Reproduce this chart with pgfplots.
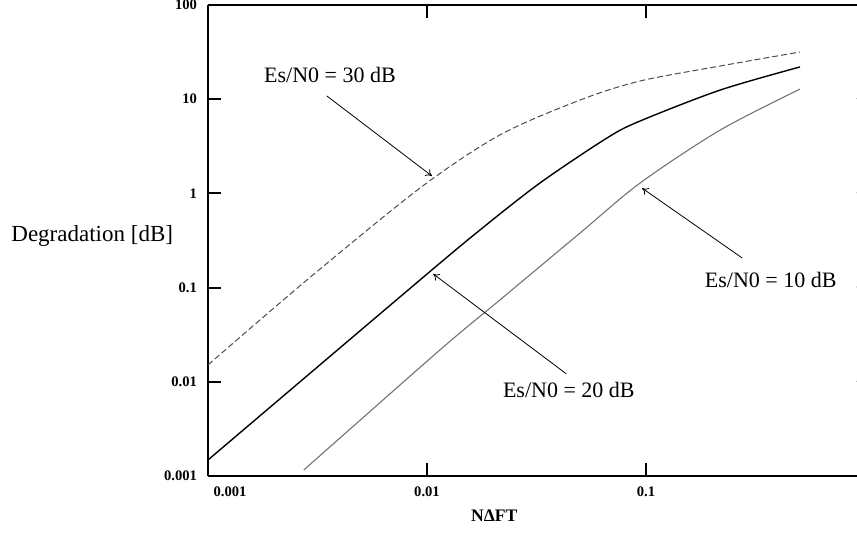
\documentclass[border=0pt]{standalone}
\usepackage{fontspec}
\setmainfont{Liberation Serif}
\usepackage{pgfplots}
\pgfplotsset{compat=1.18}
\usetikzlibrary{arrows.meta,calc}
\begin{document}
\begin{tikzpicture}
\begin{axis}[
  name=ax,
  xmode=log, ymode=log,
  scale only axis,
  width=324.5pt, height=235.5pt,
  xmin=0.001, xmax=0.919, ymin=0.001, ymax=100,
  axis x line=box, axis y line=left,
  axis line style={line width=0.9pt, -},
  xtick={0.001,0.01,0.1},
  xticklabels={\hspace*{22pt}0.001,0.01,0.1},
  ytick={0.001,0.01,0.1,1,10,100},
  yticklabels={0.001,0.01,0.1,1,10,100},
  minor tick length=0pt,
  minor tick style={draw=none},
  tick style={line width=0.9pt, black},
  major tick length=6.5pt,
  tick align=inside,
  ticklabel style={font=\bfseries\fontsize{7.3}{8}\selectfont},
  xticklabel style={yshift=-2pt},
  yticklabel style={xshift=-2pt},
  clip mode=individual,
]
% Es/N0 = 30 dB
\addplot[black!70, line width=0.5pt, dash pattern=on 3pt off 1.5pt, smooth] coordinates {
(0.001,0.0151) (0.00283,0.1205) (0.00929,1.14) (0.0215,4.17) (0.05,9.8)
(0.094,15.6) (0.218,22.5) (0.505,31.7)};
% Es/N0 = 20 dB
\addplot[black, line width=0.7pt, smooth] coordinates {
(0.001,0.00148) (0.00929,0.1205) (0.01746,0.409) (0.0328,1.29) (0.0664,3.88)
(0.094,5.87) (0.218,12.5) (0.505,22.0)};
% Es/N0 = 10 dB
\addplot[black!55, line width=0.55pt, smooth] coordinates {
(0.00274,0.00116) (0.01146,0.0218) (0.0215,0.0738) (0.05,0.380) (0.094,1.29)
(0.218,4.7) (0.505,12.8)};

\draw[line width=0.9pt] (axis cs:0.919,0.01) -- ++(-3pt,0);
\draw[line width=0.9pt] (axis cs:0.919,0.1) -- ++(-3pt,0);
\draw[line width=0.9pt] (axis cs:0.919,1) -- ++(-3pt,0);
\draw[line width=0.9pt] (axis cs:0.919,10) -- ++(-3pt,0);

\node[font=\fontsize{11}{13}\selectfont] at (rel axis cs:0.188,0.851) {Es/N0 = 30 dB};
\draw[line width=0.4pt, -{To[length=3pt,width=4pt]}] (rel axis cs:0.183,0.807) -- (rel axis cs:0.345,0.637);
\node[font=\fontsize{11}{13}\selectfont] at (rel axis cs:0.556,0.183) {Es/N0 = 20 dB};
\draw[line width=0.4pt, -{To[length=3pt,width=4pt]}] (rel axis cs:0.552,0.217) -- (rel axis cs:0.347,0.429);
\node[font=\fontsize{11}{13}\selectfont] at (rel axis cs:0.867,0.416) {Es/N0 = 10 dB};
\draw[line width=0.4pt, -{To[length=3pt,width=4pt]}] (rel axis cs:0.823,0.463) -- (rel axis cs:0.669,0.611);

\node[anchor=east, font=\fontsize{11.5}{13}\selectfont] at (rel axis cs:-0.043,0.510) {Degradation [dB]};
\node[font=\bfseries\fontsize{8.8}{10}\selectfont] at (rel axis cs:0.441,-0.085) {NΔFT};
\end{axis}
\pgfresetboundingbox
\path[use as bounding box] ($(ax.south west)+(-104pt,-31.5pt)$) rectangle ($(ax.north east)+(0pt,2.5pt)$);
\end{tikzpicture}
\end{document}
